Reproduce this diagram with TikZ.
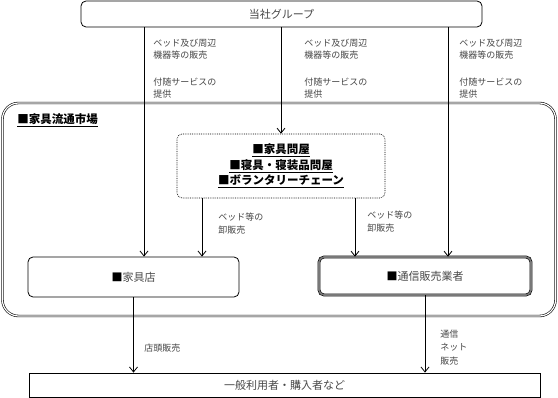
\documentclass[tikz,border=0pt]{standalone}
\usepackage{fontspec}
\setmainfont{Noto Sans CJK JP}
\usetikzlibrary{arrows.meta,calc,positioning}
\definecolor{gristexte}{RGB}{70,70,70}
\definecolor{griscadre}{RGB}{120,120,120}
\newcommand{\carre}{{\color{black}■}}

\tikzset{
  boite/.style={draw,line width=0.8pt,rounded corners=5pt,inner sep=0pt,align=center,text=gristexte,font=\fontsize{11}{13}\selectfont},
  etiq/.style={anchor=north west,inner sep=0pt,align=left,text=gristexte,font=\fontsize{9}{12.5}\selectfont},
  titre/.style={inner sep=0pt,align=center,font=\bfseries\fontsize{11.5}{15.5}\selectfont},
}

\begin{document}
\begin{tikzpicture}[x=1pt,y=-1pt,line width=0.8pt,>={Straight Barb[length=5pt,width=8pt]}]
  \useasboundingbox (0,0) rectangle (558,398);
  % 家具流通市場
  \node[draw,double,double distance=1.2pt,line width=0.6pt,rounded corners=16pt,
        minimum width=553pt,minimum height=213pt,inner sep=0pt] (ryutsu) at (279,209.5) {};
  \node[titre,anchor=west] (ryutsutitre) at (17,120) {\underline{■家具流通市場}};
  % boites
  \node[boite,minimum width=401pt,minimum height=26pt] (tousha) at (281.5,14) {当社グループ};
  \node[boite,densely dotted,line width=0.6pt,minimum width=208pt,minimum height=64pt,text=black,
        font=\bfseries\fontsize{11.5}{15.5}\selectfont] (oroshi) at (281,166)
    {\underline{■家具問屋}\\\underline{■寝具・寝装品問屋}\\\underline{■ボランタリーチェーン}};
  \node[boite,minimum width=211pt,minimum height=40pt] (kaguten) at (133.5,277) {\carre 家具店};
  \node[boite,double=griscadre,double distance=1.6pt,line width=0.6pt,minimum width=212pt,minimum height=38pt]
    (tsuhan) at (425,276) {\carre 通信販売業者};
  \node[draw,minimum width=511pt,minimum height=24pt,inner sep=0pt,text=gristexte,
        font=\fontsize{11}{13}\selectfont] (ippan) at (284.5,385) {一般利用者・購入者など};
  % fleches
  \coordinate (x1) at (144,0);
  \coordinate (x2) at (281,0);
  \coordinate (x3) at (448,0);
  \coordinate (x4) at (202,0);
  \coordinate (x5) at (355,0);
  \draw[->] (tousha.south -| x1) -- (kaguten.north -| x1);
  \draw[->] (tousha.south -| x2) -- (oroshi.north -| x2);
  \draw[->] (tousha.south -| x3) -- (tsuhan.north -| x3);
  \draw[->] (oroshi.south -| x4) -- (kaguten.north -| x4);
  \draw[->] (oroshi.south -| x5) -- (tsuhan.north -| x5);
  \draw[->] (kaguten.south) -- (ippan.north -| kaguten.south);
  \draw[->] (tsuhan.south) -- (ippan.north -| tsuhan.south);
  % etiquettes
  \foreach \x in {153,304,459}{
    \node[etiq] (hanbai\x) at (\x,38.5) {ベッド及び周辺\\機器等の販売};
    \node[etiq] (fuzui\x) at (\x,77.5) {付随サービスの\\提供};
  }
  \node[etiq] (oroshihanbaiA) at (218,212.5) {ベッド等の\\卸販売};
  \node[etiq] (oroshihanbaiB) at (367,210.5) {ベッド等の\\卸販売};
  \node[etiq] (tentou) at (144,343.5) {店頭販売};
  \node[etiq,font=\fontsize{9}{13.5}\selectfont] (tsushin) at (440,329.5) {通信\\ネット\\販売};
\end{tikzpicture}
\end{document}
